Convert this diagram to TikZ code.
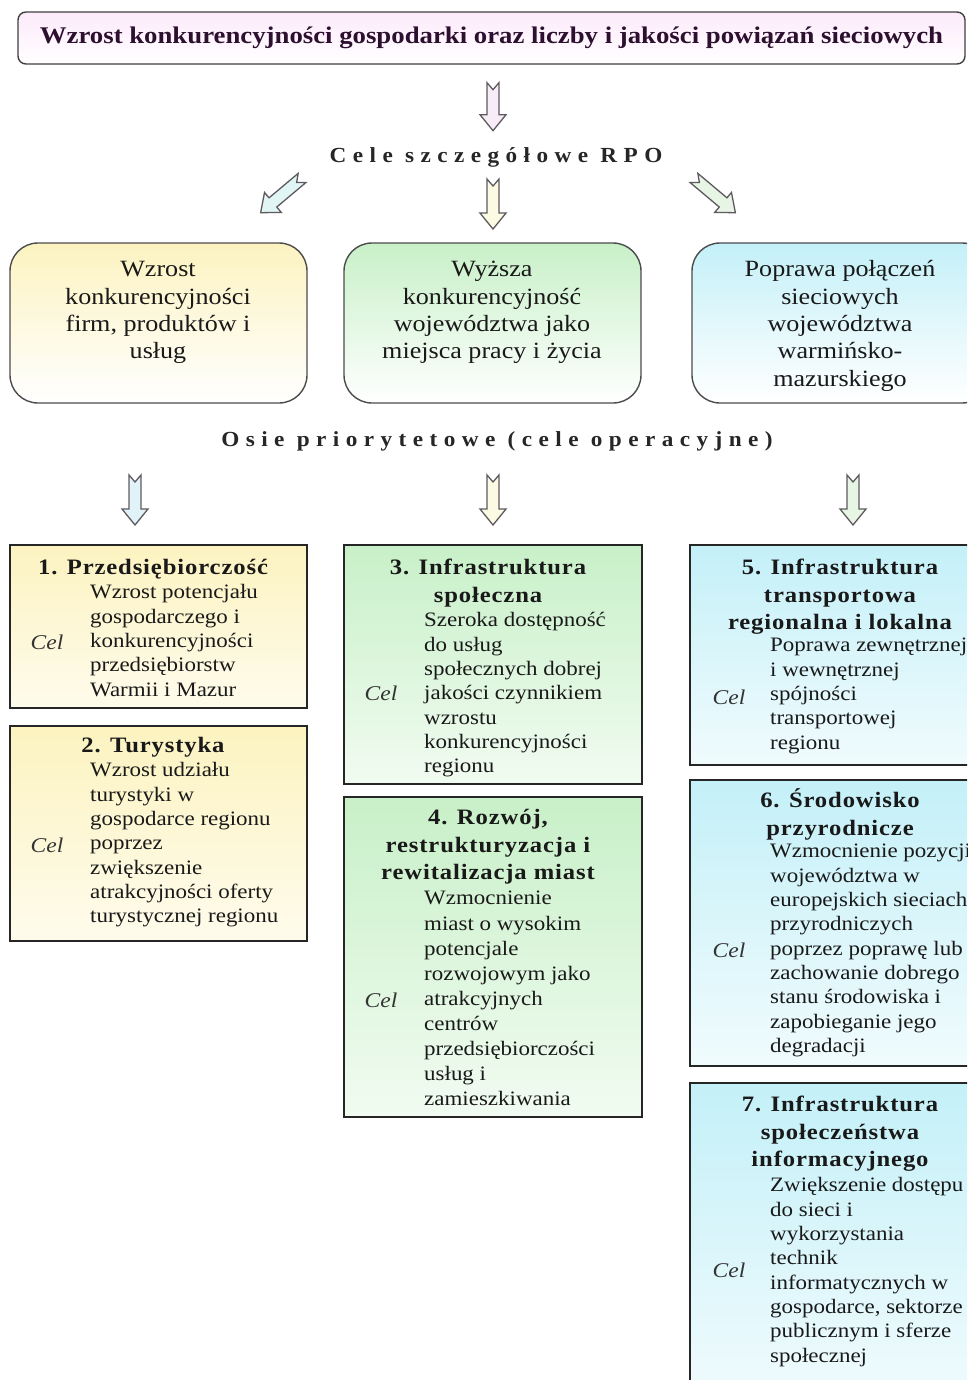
\documentclass[tikz,border=0pt]{standalone}
\usepackage{fontspec}
\setmainfont{Liberation Serif}[FakeStretch=1.12]
\newfontfamily\spaced{Liberation Serif}[FakeStretch=1.08,LetterSpace=30]
\newfontfamily\titlefont{Liberation Serif}[FakeStretch=1.12,LetterSpace=4]
\usetikzlibrary{calc}
\definecolor{ylw}{RGB}{252,243,192}
\definecolor{grn}{RGB}{200,240,200}
\definecolor{cyn}{RGB}{196,240,248}
\definecolor{pnk}{RGB}{248,196,244}
\definecolor{hdr}{RGB}{45,16,48}
\definecolor{ink}{RGB}{25,25,25}
\definecolor{edge}{RGB}{95,90,95}
\definecolor{afpink}{RGB}{248,236,248}
\definecolor{afylw}{RGB}{252,250,226}
\definecolor{afcyn}{RGB}{225,245,245}
\definecolor{afgrn}{RGB}{230,245,228}
\definecolor{afblu}{RGB}{225,242,248}
\newcommand{\stt}[1]{\rule{0pt}{#1pt}}
\begin{document}
\lineskiplimit=-30pt
\begin{tikzpicture}[x=1pt,y=-1pt,
  pics/barrow/.style={code={
    \path[pic actions] (-6,0) -- (0,7) -- (6,0) -- (6,{#1-16}) -- (13,{#1-16}) -- (0,#1) -- (-13,{#1-16}) -- (-6,{#1-16}) -- cycle;
  }},
  arrowstyle/.style={draw=edge, line width=1.3pt, line join=miter},
  banner/.style={draw=black!75, line width=1.4pt, rounded corners=8pt, top color=pnk!35!white, middle color=pnk, bottom color=white, inner sep=0pt,
     font=\fontsize{23.9}{27}\selectfont\bfseries, text=hdr},
  goalbox/.style={draw=black!70, line width=1.4pt, rounded corners=28pt, inner sep=0pt},
  axisbox/.style={draw=black!85, line width=1.6pt, inner sep=0pt},
  goaltext/.style={anchor=north, align=center, inner sep=0pt, text=ink, font=\fontsize{23.3}{27.4}\selectfont},
  headtext/.style={anchor=north, align=center, inner sep=0pt, text=ink, font=\fontsize{22}{27.8}\selectfont\titlefont\bfseries},
  bodytext/.style={anchor=north west, align=left, inner sep=0pt, text=ink, font=\fontsize{20.5}{24.3}\selectfont},
  cel/.style={inner sep=0pt, text=black!80, font=\fontsize{21}{24}\selectfont\itshape},
  spacedlabel/.style={inner sep=0pt, text=black!85, font=\fontsize{21.5}{24}\selectfont\spaced\bfseries}
]
\useasboundingbox (0,0) rectangle (967,1380);
\clip (0,0) rectangle (967,1380);
\fill[white] (0,0) rectangle (967,1380);

% header
\node[banner, minimum width=947, minimum height=52] (top) at (491.5,38) {Wzrost konkurencyjności gospodarki oraz liczby i jakości powiązań sieciowych};

\pic[arrowstyle, fill=afpink] at ($(top.south)+(1.5,18)$) {barrow=48};

\node[spacedlabel] (cele) at (496,157) {Cele szczegółowe RPO};

\pic[arrowstyle, fill=afylw] at ($(cele.south)+(-3,12)$) {barrow=50};
\pic[arrowstyle, fill=afcyn, rotate=-50] at (302,178) {barrow=54};
\pic[arrowstyle, fill=afgrn, rotate=50] at (694,178) {barrow=54};

% goal boxes
\node[goalbox, top color=ylw, bottom color=white, minimum width=297, minimum height=160] (g1) at (158.5,323) {};
\node[goalbox, top color=grn, bottom color=white, minimum width=297, minimum height=160] (g2) at (492.5,323) {};
\node[goalbox, top color=cyn, bottom color=white, minimum width=298, minimum height=160] (g3) at (841,323) {};

\node[goaltext] (g1t) at (158,254.4) {\stt{22}Wzrost\\konkurencyjności\\firm, produktów i\\usług};
\node[goaltext] (g2t) at (492,254.4) {\stt{22}Wyższa\\konkurencyjność\\województwa jako\\miejsca pracy i życia};
\node[goaltext] (g3t) at (840,254.4) {\stt{22}Poprawa połączeń\\sieciowych\\województwa\\warmińsko-\\mazurskiego};

\node[spacedlabel] (osie) at (497,441) {Osie priorytetowe (cele operacyjne)};

\pic[arrowstyle, fill=afblu] at (135,475) {barrow=50};
\pic[arrowstyle, fill=afylw] at (493,475) {barrow=50};
\pic[arrowstyle, fill=afgrn] at (853,475) {barrow=50};

% axis boxes
\node[axisbox, top color=ylw, bottom color=ylw!30!white, minimum width=297, minimum height=163] (r1) at (158.5,626.5) {};
\node[axisbox, top color=ylw, bottom color=ylw!30!white, minimum width=297, minimum height=215] (r2) at (158.5,833.5) {};
\node[axisbox, top color=grn, bottom color=grn!25!white, minimum width=298, minimum height=239] (r3) at (493,664.5) {};
\node[axisbox, top color=grn, bottom color=grn!25!white, minimum width=298, minimum height=320] (r4) at (493,957) {};
\node[axisbox, top color=cyn, bottom color=cyn!25!white, minimum width=300, minimum height=220] (r5) at (840,655) {};
\node[axisbox, top color=cyn, bottom color=cyn!25!white, minimum width=300, minimum height=286] (r6) at (840,923) {};
\node[axisbox, top color=cyn, bottom color=cyn!25!white, minimum width=300, minimum height=317] (r7) at (840,1241.5) {};

% titles
\node[headtext] (h1) at (153,553) {\stt{21}1. Przedsiębiorczość};
\node[headtext] (h2) at (153,731) {\stt{21}2. Turystyka};
\node[headtext] (h3) at (488,553) {\stt{21}3. Infrastruktura\\społeczna};
\node[headtext] (h4) at (488,803) {\stt{21}4. Rozwój,\\restrukturyzacja i\\rewitalizacja miast};
\node[headtext] (h5) at (840,553) {\stt{21}5. Infrastruktura\\transportowa\\regionalna i lokalna};
\node[headtext] (h6) at (840,786) {\stt{21}6. Środowisko\\przyrodnicze};
\node[headtext] (h7) at (840,1090) {\stt{21}7. Infrastruktura\\społeczeństwa\\informacyjnego};

% bodies
\node[bodytext] (b1) at (90,579.7) {\stt{19}Wzrost potencjału\\gospodarczego i\\konkurencyjności\\przedsiębiorstw\\Warmii i Mazur};
\node[bodytext] (b2) at (90,757.7) {\stt{19}Wzrost udziału\\turystyki w\\gospodarce regionu\\poprzez\\zwiększenie\\atrakcyjności oferty\\turystycznej regionu};
\node[bodytext] (b3) at (424,607.7) {\stt{19}Szeroka dostępność\\do usług\\społecznych dobrej\\jakości czynnikiem\\wzrostu\\konkurencyjności\\regionu};
\node[bodytext, font=\fontsize{20.5}{25.1}\selectfont] (b4) at (424,885.7) {\stt{19}Wzmocnienie\\miast o wysokim\\potencjale\\rozwojowym jako\\atrakcyjnych\\centrów\\przedsiębiorczości\\usług i\\zamieszkiwania};
\node[bodytext] (b5) at (770,632.7) {\stt{19}Poprawa zewnętrznej\\i wewnętrznej\\spójności\\transportowej\\regionu};
\node[bodytext] (b6) at (770,838.7) {\stt{19}Wzmocnienie pozycji\\województwa w\\europejskich sieciach\\przyrodniczych\\poprzez poprawę lub\\zachowanie dobrego\\stanu środowiska i\\zapobieganie jego\\degradacji};
\node[bodytext] (b7) at (770,1172.7) {\stt{19}Zwiększenie dostępu\\do sieci i\\wykorzystania\\technik\\informatycznych w\\gospodarce, sektorze\\publicznym i sferze\\społecznej};

% Cel labels
\node[cel] (c1) at (47,642) {Cel};
\node[cel] (c2) at (47,845) {Cel};
\node[cel] (c3) at (381,693) {Cel};
\node[cel] (c4) at (381,1000) {Cel};
\node[cel] (c5) at (729,697) {Cel};
\node[cel] (c6) at (729,950) {Cel};
\node[cel] (c7) at (729,1270) {Cel};
\end{tikzpicture}
\end{document}
